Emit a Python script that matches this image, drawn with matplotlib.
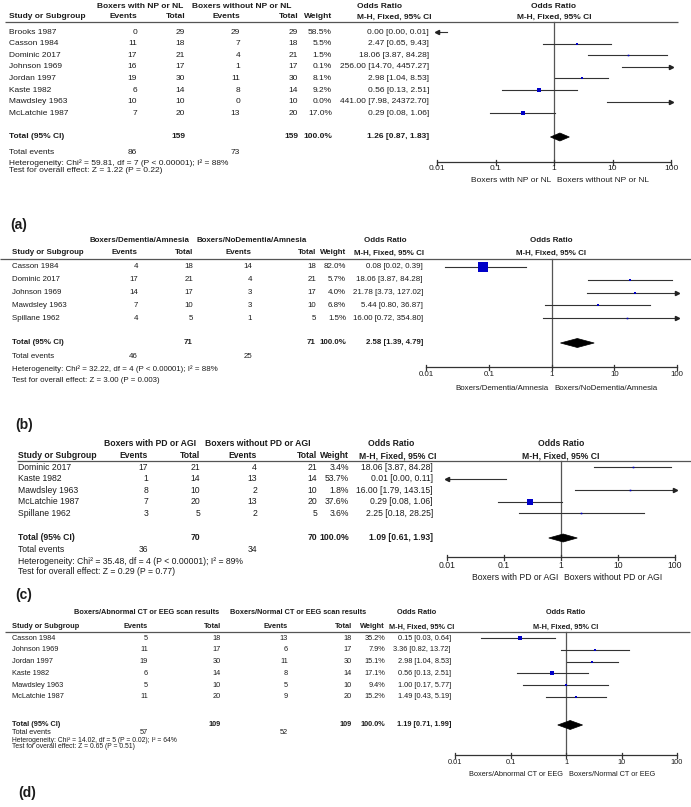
import matplotlib
matplotlib.use('Agg')
import matplotlib.pyplot as plt
from matplotlib.patches import Polygon
import warnings, logging
logging.getLogger('matplotlib.font_manager').setLevel(logging.ERROR)
warnings.filterwarnings('ignore')

# ---------------- DATA ----------------
# Panel (a)
studies_a = ["Brooks 1987", "Casson 1984", "Dominic 2017", "Johnson 1969", "Jordan 1997",
             "Kaste 1982", "Mawdsley 1963", "McLatchie 1987"]
ev1_a = [0, 11, 17, 16, 19, 6, 10, 7]
tot1_a = [29, 18, 21, 17, 30, 14, 10, 20]
ev2_a = [29, 7, 4, 1, 11, 8, 0, 13]
tot2_a = [29, 18, 21, 17, 30, 14, 10, 20]
wt_a = [58.5, 5.5, 1.5, 0.1, 8.1, 9.2, 0.0, 17.0]
or_a = [0.0003, 2.47, 18.06, 256.00, 2.98, 0.56, 441.00, 0.29]
lo_a = [0.0, 0.65, 3.87, 14.70, 1.04, 0.13, 7.98, 0.08]
hi_a = [0.0149, 9.43, 84.28, 4457.27, 8.53, 2.51, 24372.70, 1.06]
pooled_a = [1.26, 0.87, 1.83]
groups_a = ["Boxers with NP or NL", "Boxers without NP or NL"]
het_a = [59.81, 7, "P < 0.00001", 88]
test_a = [1.22, "0.22"]

# Panel (b)
studies_b = ["Casson 1984", "Dominic 2017", "Johnson 1969", "Mawdsley 1963", "Spillane 1962"]
ev1_b = [4, 17, 14, 7, 4]
tot1_b = [18, 21, 17, 10, 5]
ev2_b = [14, 4, 3, 3, 1]
tot2_b = [18, 21, 17, 10, 5]
wt_b = [82.0, 5.7, 4.0, 6.8, 1.5]
or_b = [0.08, 18.06, 21.78, 5.44, 16.00]
lo_b = [0.02, 3.87, 3.73, 0.80, 0.72]
hi_b = [0.39, 84.28, 127.02, 36.87, 354.80]
pooled_b = [2.58, 1.39, 4.79]
groups_b = ["Boxers/Dementia/Amnesia", "Boxers/NoDementia/Amnesia"]
het_b = [32.22, 4, "P < 0.00001", 88]
test_b = [3.00, "0.003"]

# Panel (c)
studies_c = ["Dominic 2017", "Kaste 1982", "Mawdsley 1963", "McLatchie 1987", "Spillane 1962"]
ev1_c = [17, 1, 8, 7, 3]
tot1_c = [21, 14, 10, 20, 5]
ev2_c = [4, 13, 2, 13, 2]
tot2_c = [21, 14, 10, 20, 5]
wt_c = [3.4, 53.7, 1.8, 37.6, 3.6]
or_c = [18.06, 0.0059, 16.00, 0.29, 2.25]
lo_c = [3.87, 0.0, 1.79, 0.08, 0.18]
hi_c = [84.28, 0.11, 143.15, 1.06, 28.25]
pooled_c = [1.09, 0.61, 1.93]
groups_c = ["Boxers with PD or AGI", "Boxers without PD or AGI"]
het_c = [35.48, 4, "P < 0.00001", 89]
test_c = [0.29, "0.77"]

# Panel (d)
studies_d = ["Casson 1984", "Johnson 1969", "Jordan 1997", "Kaste 1982", "Mawdsley 1963", "McLatchie 1987"]
ev1_d = [5, 11, 19, 6, 5, 11]
tot1_d = [18, 17, 30, 14, 10, 20]
ev2_d = [13, 6, 11, 8, 5, 9]
tot2_d = [18, 17, 30, 14, 10, 20]
wt_d = [35.2, 7.9, 15.1, 17.1, 9.4, 15.2]
or_d = [0.15, 3.36, 2.98, 0.56, 1.00, 1.49]
lo_d = [0.03, 0.82, 1.04, 0.13, 0.17, 0.43]
hi_d = [0.64, 13.72, 8.53, 2.51, 5.77, 5.19]
pooled_d = [1.19, 0.71, 1.99]
groups_d = ["Boxers/Abnormal CT or EEG scan results", "Boxers/Normal CT or EEG scan results"]
dirs_d = ["Boxers/Abnormal CT or EEG", "Boxers/Normal CT or EEG"]
het_d = [14.02, 5, "P = 0.02", 64]
test_d = [0.65, "0.51"]

tick_vals = [0.01, 0.1, 1, 10, 100]
tick_labels = ["0.01", "0.1", "1", "10", "100"]

# ---------------- STYLE / LAYOUT ----------------
W, H = 691, 807
TXT = '#1c1c1c'
LINE = '#555555'
BLUE = '#0000c8'
FAM = ['Liberation Sans', 'DejaVu Sans']

fig = plt.figure(figsize=(W / 100, H / 100), dpi=100)
fig.patch.set_facecolor('white')
bg = fig.add_axes([0, 0, 1, 1])
bg.set_xlim(0, W)
bg.set_ylim(H, 0)
bg.axis('off')


def panel(d, L):
    fs = L['fs']
    fs2 = fs * L['fs2r']

    def T(x, y, s, ha='left', bold=False, size=None):
        bg.text(x, y, s, ha=ha, va='center', family=FAM, fontsize=size or fs,
                fontweight='bold' if bold else 'normal', color=TXT)

    x1px = (L['x001'] + L['x100']) / 2.0
    # headers
    T(L['g1'], L['hy1'], d['groups'][0], 'center', True)
    T(L['g2'], L['hy1'], d['groups'][1], 'center', True)
    T(L['orh1'], L['hy1'], 'Odds Ratio', 'center', True)
    T(x1px, L['hy1'], 'Odds Ratio', 'center', True)
    T(L['study_x'], L['hy2'], 'Study or Subgroup', 'left', True)
    T(L['ev1'], L['hy2'], 'Events', 'right', True)
    T(L['tot1'], L['hy2'], 'Total', 'right', True)
    T(L['ev2'], L['hy2'], 'Events', 'right', True)
    T(L['tot2'], L['hy2'], 'Total', 'right', True)
    T(L['wt'], L['hy2'], 'Weight', 'right', True)
    T(L['orh2'], L['hy2'], 'M-H, Fixed, 95% CI', 'center', True)
    T(x1px, L['hy2'], 'M-H, Fixed, 95% CI', 'center', True)
    bg.plot([L['line_x0'], L['line_x1']], [L['hline'], L['hline']], color=LINE, lw=0.9,
            solid_capstyle='butt')

    # forest axes: x in log OR, y in figure pixels
    fa = fig.add_axes([L['x001'] / W, 0, (L['x100'] - L['x001']) / W, 1])
    fa.set_xscale('log')
    fa.set_xlim(0.01, 100)
    fa.set_ylim(H, 0)
    fa.axis('off')
    fa.patch.set_alpha(0)

    n = len(d['studies'])
    for i in range(n):
        y = L['row0'] + i * L['dy']
        T(L['study_x'], y, d['studies'][i])
        T(L['ev1'], y, str(d['ev1'][i]), 'right')
        T(L['tot1'], y, str(d['tot1'][i]), 'right')
        T(L['ev2'], y, str(d['ev2'][i]), 'right')
        T(L['tot2'], y, str(d['tot2'][i]), 'right')
        T(L['wt'], y, f"{d['wt'][i]:.1f}%", 'right')
        T(L['orr'], y, f"{d['or'][i]:.2f} [{d['lo'][i]:.2f}, {d['hi'][i]:.2f}]", 'right')
        lo, hi, o = d['lo'][i], d['hi'][i], d['or'][i]
        lc, hc = max(lo, 0.01), min(hi, 100)
        fa.plot([lc, hc], [y, y], color='#333333', lw=0.8, clip_on=False, zorder=2)
        if lo < 0.01:
            fa.plot([0.01], [y], marker='<', ms=3.0, color='#222222', clip_on=False, zorder=3)
        if hi > 100:
            fa.plot([100], [y], marker='>', ms=3.0, color='#222222', clip_on=False, zorder=3)
        if 0.01 <= o <= 100:
            side = max(L['sq'] * (d['wt'][i] / 100.0) ** 0.5, 1.6)
            fa.plot([o], [y], marker='s', ms=side * 0.72, color=BLUE, mec=BLUE, mew=0,
                    zorder=4, clip_on=False)

    # totals
    yt = L['ytot']
    T(L['study_x'], yt, 'Total (95% CI)', 'left', True)
    T(L['tot1'], yt, str(sum(d['tot1'])), 'right', True)
    T(L['tot2'], yt, str(sum(d['tot2'])), 'right', True)
    T(L['wt'], yt, '100.0%', 'right', True)
    po, pl, ph = d['pooled']
    T(L['orr'], yt, f"{po:.2f} [{pl:.2f}, {ph:.2f}]", 'right', True)
    hh = L['dh'] / 2.0
    fa.add_patch(Polygon([(pl, yt), (po, yt - hh), (ph, yt), (po, yt + hh)], closed=True,
                         facecolor='black', edgecolor='black', lw=0.5, zorder=4))

    T(L['study_x'], L['yev'], 'Total events')
    T(L['ev1'], L['yev'], str(sum(d['ev1'])), 'right')
    T(L['ev2'], L['yev'], str(sum(d['ev2'])), 'right')
    chi, df, p, i2 = d['het']
    T(L['study_x'], L['yhet'], f"Heterogeneity: Chi\u00b2 = {chi:.2f}, df = {df} ({p}); I\u00b2 = {i2}%",
      size=fs2)
    z, pz = d['test']
    T(L['study_x'], L['ytest'], f"Test for overall effect: Z = {z:.2f} (P = {pz})", size=fs2)

    # axis
    fa.plot([1, 1], [L['hline'], L['yaxis']], color=LINE, lw=0.9, zorder=1)
    fa.plot([0.01, 100], [L['yaxis'], L['yaxis']], color='#333333', lw=0.9, clip_on=False)
    for tv, tl in zip(tick_vals, tick_labels):
        fa.plot([tv, tv], [L['yaxis'] - 2.5, L['yaxis'] + 2.5], color='#333333', lw=0.9,
                clip_on=False)
        fa.text(tv, L['ytick'], tl, ha='center', va='center', family=FAM,
                fontsize=fs, color=TXT, clip_on=False)
    dl = d.get('dirs', d['groups'])
    T(x1px - 3, L['ydir'], dl[0], 'right')
    T(x1px + 3, L['ydir'], dl[1], 'left')

    bg.text(L['lab_x'], L['ylab'], d['label'], ha='left', va='center', family=FAM,
            fontsize=10, fontweight='bold', color=TXT)


A = dict(studies=studies_a, ev1=ev1_a, tot1=tot1_a, ev2=ev2_a, tot2=tot2_a, wt=wt_a,
         **{'or': or_a}, lo=lo_a, hi=hi_a, pooled=pooled_a, groups=groups_a,
         het=het_a, test=test_a, label='(a)')
B = dict(studies=studies_b, ev1=ev1_b, tot1=tot1_b, ev2=ev2_b, tot2=tot2_b, wt=wt_b,
         **{'or': or_b}, lo=lo_b, hi=hi_b, pooled=pooled_b, groups=groups_b,
         het=het_b, test=test_b, label='(b)')
C = dict(studies=studies_c, ev1=ev1_c, tot1=tot1_c, ev2=ev2_c, tot2=tot2_c, wt=wt_c,
         **{'or': or_c}, lo=lo_c, hi=hi_c, pooled=pooled_c, groups=groups_c,
         het=het_c, test=test_c, label='(c)')
D = dict(studies=studies_d, ev1=ev1_d, tot1=tot1_d, ev2=ev2_d, tot2=tot2_d, wt=wt_d,
         **{'or': or_d}, lo=lo_d, hi=hi_d, pooled=pooled_d, groups=groups_d, dirs=dirs_d,
         het=het_d, test=test_d, label='(d)')

LA = dict(fs=6.0, fs2r=1.0, study_x=9, ev1=137, tot1=185, ev2=240,
          tot2=298, wt=332, orr=429, g1=140, g2=242, orh1=380, orh2=394, x001=437, x100=671,
          line_x0=5, line_x1=678, hy1=6, hy2=17, hline=22, row0=32, dy=11.6, ytot=137,
          yev=152, yhet=163, ytest=171, yaxis=162, ytick=169, ydir=180, ylab=225, lab_x=10,
          sq=10, dh=8)
LB = dict(fs=5.7, fs2r=1.0, study_x=12, ev1=138, tot1=193, ev2=252,
          tot2=316, wt=346, orr=423, g1=139, g2=252, orh1=385, orh2=389, x001=426, x100=677,
          line_x0=0, line_x1=691, hy1=241, hy2=253, hline=259, row0=267, dy=12.8, ytot=343,
          yev=357, yhet=369, ytest=381, yaxis=367, ytick=375, ydir=388, ylab=425, lab_x=15,
          sq=11, dh=9)
LC = dict(fs=6.2, fs2r=1.0, study_x=18, ev1=148, tot1=200, ev2=257,
          tot2=317, wt=349, orr=433, g1=150, g2=258, orh1=391, orh2=398, x001=447, x100=675,
          line_x0=17, line_x1=691, hy1=443, hy2=456, hline=461, row0=467, dy=11.6, ytot=538,
          yev=549, yhet=561, ytest=572, yaxis=557, ytick=565, ydir=577, ylab=595, lab_x=15,
          sq=8.5, dh=8)
LD = dict(fs=5.3, fs2r=0.92, study_x=12, ev1=148, tot1=221, ev2=288,
          tot2=352, wt=385, orr=451, g1=147, g2=298, orh1=417, orh2=422, x001=455, x100=677,
          line_x0=5, line_x1=690, hy1=613, hy2=627, hline=632, row0=638, dy=11.8, ytot=725,
          yev=733, yhet=740, ytest=747, yaxis=755, ytick=763, ydir=774, ylab=793, lab_x=18,
          sq=7.5, dh=9)

for dd, ll in [(A, LA), (B, LB), (C, LC), (D, LD)]:
    panel(dd, ll)

fig.savefig('out.png', dpi=100, facecolor='white')
